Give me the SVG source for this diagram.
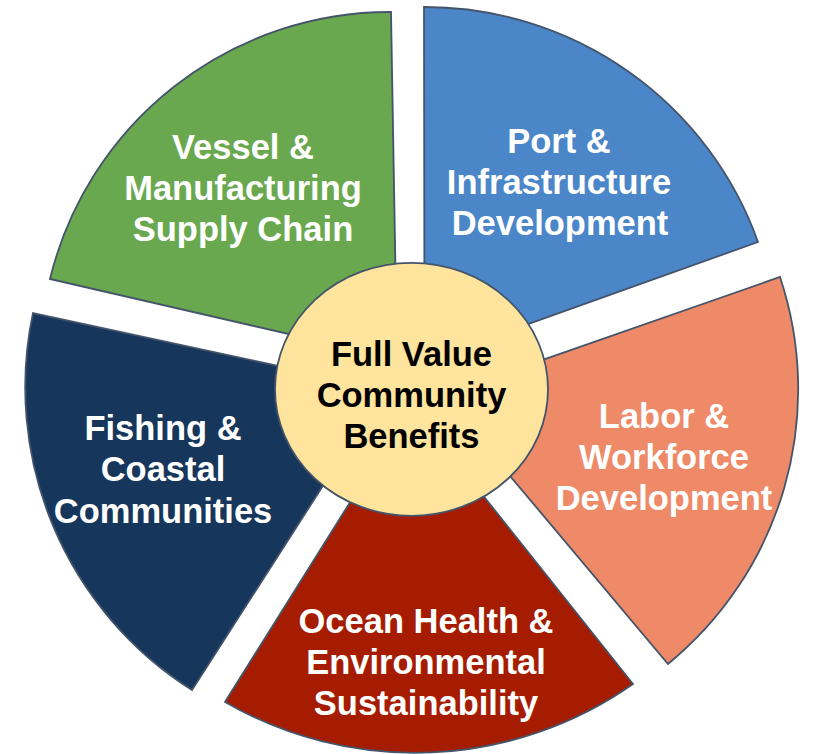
<svg xmlns="http://www.w3.org/2000/svg" width="815" height="754" viewBox="0 0 815 754">
  <style>
    .slice { stroke: #44546a; stroke-width: 1.8; stroke-linejoin: miter; }
    .label { font-family: "Liberation Sans", Arial, sans-serif; font-weight: bold; font-size: 34.5px; text-anchor: middle; }
    .light { fill: #ffffff; }
    .dark { fill: #000000; }
  </style>
  <rect width="815" height="754" fill="#ffffff"/>

  <!-- Exploded pie slices -->
  <g id="vessel-supply-chain">
    <path class="slice" fill="#6aa84f" d="M397,359 L50,279 A350,350 0 0 1 391,12 Z"/>
    <text class="label light" x="243" y="159">Vessel &amp;</text>
    <text class="label light" x="243" y="200">Manufacturing</text>
    <text class="label light" x="243" y="241">Supply Chain</text>
  </g>

  <g id="port-infrastructure">
    <path class="slice" fill="#4a86c8" d="M424.5,361 L424,7 A354,354 0 0 1 758,242 Z"/>
    <text class="label light" x="559" y="153">Port &amp;</text>
    <text class="label light" x="559" y="194">Infrastructure</text>
    <text class="label light" x="560" y="235">Development</text>
  </g>

  <g id="labor-workforce">
    <path class="slice" fill="#ee8a68" d="M442,395 L780,277 A355,355 0 0 1 668,664 Z"/>
    <text class="label light" x="664" y="428">Labor &amp;</text>
    <text class="label light" x="664" y="469">Workforce</text>
    <text class="label light" x="664" y="510">Development</text>
  </g>

  <g id="ocean-health">
    <path class="slice" fill="#a61c00" d="M411,405 L633,684 A380,380 0 0 1 225,702 Z"/>
    <text class="label light" x="426" y="633">Ocean Health &amp;</text>
    <text class="label light" x="426" y="674">Environmental</text>
    <text class="label light" x="426" y="715">Sustainability</text>
  </g>

  <g id="fishing-coastal">
    <path class="slice" fill="#16365c" d="M385,389 L192,690 A358,358 0 0 1 33,313 Z"/>
    <text class="label light" x="163" y="440">Fishing &amp;</text>
    <text class="label light" x="163" y="481">Coastal</text>
    <text class="label light" x="163" y="523">Communities</text>
  </g>

  <!-- Hub -->
  <g id="full-value-hub">
    <ellipse class="slice" fill="#fee49c" cx="411.5" cy="389.3" rx="136.5" ry="126.5"/>
    <text class="label dark" x="411.5" y="366">Full Value</text>
    <text class="label dark" x="411.5" y="407">Community</text>
    <text class="label dark" x="411.5" y="448">Benefits</text>
  </g>

  <g id="connectors"/>
</svg>
